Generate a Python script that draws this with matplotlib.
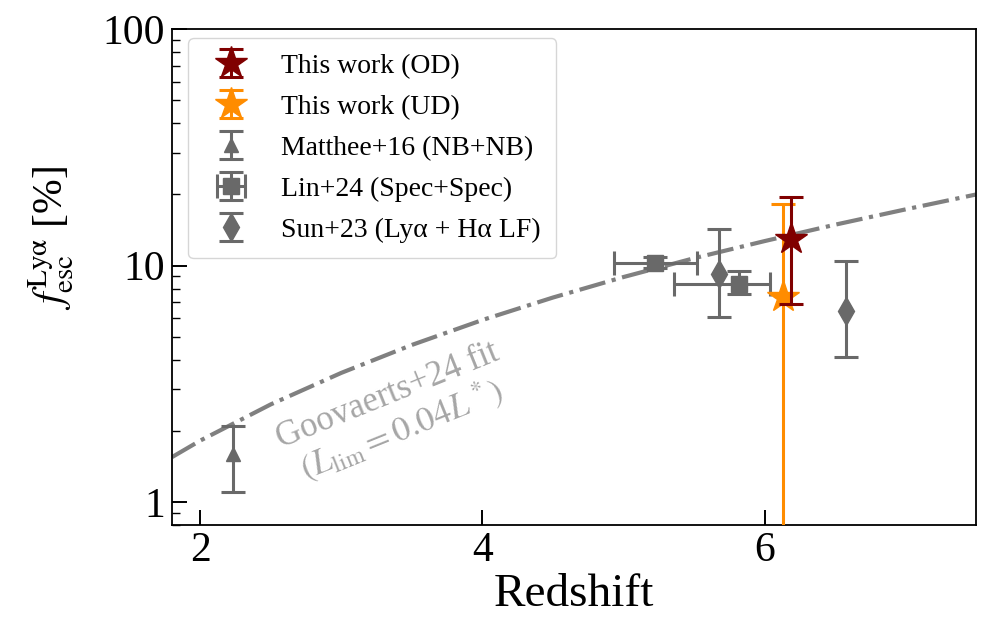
import matplotlib
matplotlib.use("Agg")
import matplotlib.pyplot as plt
from matplotlib.ticker import FixedLocator, FuncFormatter, LogLocator, NullFormatter

plt.rcParams["font.family"] = ["Liberation Serif", "DejaVu Serif"]
plt.rcParams["mathtext.fontset"] = "stix"

OD_COLOR = "#800000"
UD_COLOR = "#ff8c00"
LIT_COLOR = "#696969"
FIT_COLOR = "#808080"
FIT_TEXT_COLOR = "#a6a6a6"

# This work
od_z = [6.19]
od_f = [13.0]
od_err_lo = [6.1]
od_err_hi = [6.5]

ud_z = [6.13]
ud_f = [7.35]
ud_err_lo = [7.34]
ud_err_hi = [10.9]

# Matthee+16 (NB+NB)
matthee_z = [2.23]
matthee_f = [1.6]
matthee_err_lo = [0.5]
matthee_err_hi = [0.5]

# Lin+24 (Spec+Spec)
lin_z = [5.22, 5.82]
lin_f = [10.3, 8.4]
lin_zerr_lo = [0.29, 0.46]
lin_zerr_hi = [0.30, 0.22]
lin_err_lo = [0.5, 0.8]
lin_err_hi = [0.6, 1.05]

# Sun+23 (Lya + Ha LF)
sun_z = [5.68, 6.58]
sun_f = [9.2, 6.45]
sun_err_lo = [3.15, 2.35]
sun_err_hi = [5.1, 4.05]

# Goovaerts+24 fit
fit_z = [1.8, 2.0, 2.5, 3.0, 3.5, 4.0, 4.5, 5.0, 5.5, 6.0, 6.5, 7.0, 7.5]
fit_f = [1.55, 1.82, 2.59, 3.52, 4.62, 5.89, 7.33, 8.95, 10.75, 12.7, 14.9, 17.3, 20.0]

fig = plt.figure(figsize=(9.89, 6.22), dpi=100)
ax = fig.add_axes([0.174, 0.156, 0.813, 0.797])

ax.plot(fit_z, fit_f, color=FIT_COLOR, linestyle="-.", linewidth=3.0, zorder=1)
ax.text(3.38, 2.35, "Goovaerts+24 fit\n$(L_{\\rm lim}=0.04L^*)$",
        color=FIT_TEXT_COLOR, fontsize=25, rotation=22, rotation_mode="anchor",
        ha="center", va="center", linespacing=1.05)

eb_kw = dict(linestyle="none", elinewidth=2.2, capsize=8.5, capthick=2.2)

ax.errorbar(od_z, od_f, yerr=[od_err_lo, od_err_hi], marker="*", ms=24,
            color=OD_COLOR, label="This work (OD)", zorder=5, **eb_kw)
ax.errorbar(ud_z, ud_f, yerr=[ud_err_lo, ud_err_hi], marker="*", ms=24,
            color=UD_COLOR, label="This work (UD)", zorder=4, **eb_kw)
ax.errorbar(matthee_z, matthee_f, yerr=[matthee_err_lo, matthee_err_hi],
            marker="^", ms=10, color=LIT_COLOR, label="Matthee+16 (NB+NB)", **eb_kw)
ax.errorbar(lin_z, lin_f, xerr=[lin_zerr_lo, lin_zerr_hi], yerr=[lin_err_lo, lin_err_hi],
            marker="s", ms=11, color=LIT_COLOR, label="Lin+24 (Spec+Spec)", **eb_kw)
ax.errorbar(sun_z, sun_f, yerr=[sun_err_lo, sun_err_hi], marker="d", ms=14,
            color=LIT_COLOR, label="Sun+23 (Ly\u03b1 + H\u03b1 LF)", **eb_kw)

ax.set_yscale("log")
ax.set_xlim(1.8, 7.5)
ax.set_ylim(0.8, 100)

ax.xaxis.set_major_locator(FixedLocator([2, 4, 6]))
ax.yaxis.set_major_locator(FixedLocator([1, 10, 100]))
ax.yaxis.set_major_formatter(FuncFormatter(lambda v, p: f"{v:g}"))
ax.yaxis.set_minor_locator(LogLocator(base=10, subs=range(2, 10)))
ax.yaxis.set_minor_formatter(NullFormatter())

ax.tick_params(which="major", direction="in", length=11, width=1.4, labelsize=30, pad=5)
ax.tick_params(which="minor", direction="in", length=6, width=1.0)
for sp in ax.spines.values():
    sp.set_linewidth(1.3)

ax.set_xlabel("Redshift", fontsize=34, labelpad=2)
ax.set_ylabel("$f_{\\rm esc}^{\\rm Ly\\alpha}$ [%]", fontsize=30)
ax.yaxis.set_label_coords(-0.12, 0.58)

ax.legend(loc="upper left", bbox_to_anchor=(0.02, 0.982), borderaxespad=0,
          fontsize=20, frameon=True, fancybox=True, handlelength=2.0,
          labelspacing=0.56, borderpad=0.55, handletextpad=0.8)

fig.savefig("out.png", dpi=100)
